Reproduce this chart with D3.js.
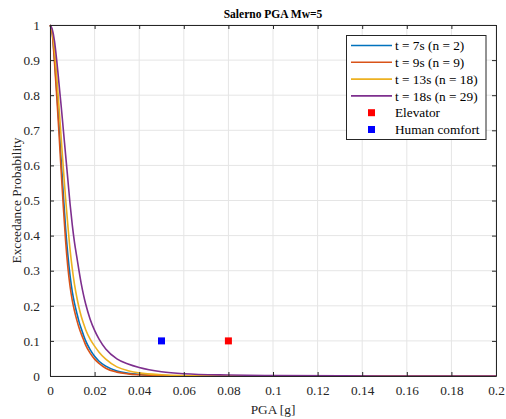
<!DOCTYPE html>
<html>
<head>
<meta charset="utf-8">
<script src="https://cdn.jsdelivr.net/npm/d3@7"></script>
<style>
  html, body { margin: 0; padding: 0; background: #fff; }
  svg { display: block; }
  svg text { font-family: "Times New Roman", "Liberation Serif", Times, serif; }
</style>
</head>
<body>
<svg id="chart" width="506" height="419"></svg>
<script>
// PGA grid [g] shared by all curves
const pga = [0, 0.001, 0.002, 0.003, 0.004, 0.005, 0.006, 0.007, 0.008, 0.009, 0.010,
             0.011, 0.012, 0.013, 0.014, 0.015, 0.016, 0.018, 0.020, 0.022, 0.025,
             0.030, 0.035, 0.040, 0.050, 0.060, 0.080, 0.100, 0.150, 0.200];

// Exceedance probability for each duration
const probT7  = [1, 0.978, 0.905, 0.815, 0.72, 0.615, 0.515, 0.42, 0.345, 0.285, 0.24,
                 0.207, 0.18, 0.155, 0.135, 0.117, 0.10, 0.075, 0.056, 0.042, 0.028,
                 0.0145, 0.008, 0.0045, 0.0016, 0.0006, 0.0001, 0, 0, 0];
const probT9  = [1, 0.975, 0.895, 0.80, 0.695, 0.585, 0.48, 0.385, 0.31, 0.255, 0.215,
                 0.185, 0.16, 0.138, 0.12, 0.104, 0.088, 0.065, 0.048, 0.036, 0.022,
                 0.011, 0.006, 0.0035, 0.0013, 0.0005, 0.0001, 0, 0, 0];
const probT13 = [1, 0.982, 0.93, 0.855, 0.77, 0.68, 0.59, 0.505, 0.43, 0.36, 0.305,
                 0.26, 0.225, 0.195, 0.17, 0.15, 0.132, 0.105, 0.085, 0.068, 0.048,
                 0.026, 0.015, 0.009, 0.0035, 0.0014, 0.0003, 0.0001, 0, 0];
const probT18 = [1, 0.988, 0.955, 0.90, 0.835, 0.77, 0.70, 0.63, 0.56, 0.49, 0.43,
                 0.38, 0.34, 0.30, 0.263, 0.232, 0.205, 0.162, 0.13, 0.105, 0.077,
                 0.049, 0.034, 0.024, 0.012, 0.0065, 0.0028, 0.0012, 0.0002, 0.0001];

const seriesNames  = ["t = 7s (n = 2)", "t = 9s (n = 9)", "t = 13s (n = 18)", "t = 18s (n = 29)"];
const seriesColors = ["#0072BD", "#D95319", "#EDB120", "#7E2F8E"];
const seriesValues = [probT7, probT9, probT13, probT18];

// Threshold points
const thresholdNames  = ["Elevator", "Human comfort"];
const thresholdPGA    = [0.08, 0.05];
const thresholdProb   = [0.1, 0.1];
const thresholdColors = ["#FF0000", "#0000FF"];

const xTicks = [0, 0.02, 0.04, 0.06, 0.08, 0.1, 0.12, 0.14, 0.16, 0.18, 0.2];
const yTicks = [0, 0.1, 0.2, 0.3, 0.4, 0.5, 0.6, 0.7, 0.8, 0.9, 1];

const svg = d3.select("#chart");
const margin = { left: 50, top: 25, right: 10, bottom: 43 };
const W = 506, H = 419;
const x = d3.scaleLinear().domain([0, 0.2]).range([margin.left, W - margin.right]);
const y = d3.scaleLinear().domain([0, 1]).range([H - margin.bottom, margin.top]);
const x0 = x.range()[0], x1 = x.range()[1], y0 = y.range()[0], y1 = y.range()[1];

const axisColor = "#262626";
const fontSize = 13.3;
const fmt = d => String(+d.toFixed(2));

// Grid
svg.append("g").selectAll("line").data(xTicks).join("line")
  .attr("x1", d => x(d)).attr("x2", d => x(d)).attr("y1", y1).attr("y2", y0)
  .attr("stroke", "#e5e5e5").attr("stroke-width", 1);
svg.append("g").selectAll("line").data(yTicks).join("line")
  .attr("x1", x0).attr("x2", x1).attr("y1", d => y(d)).attr("y2", d => y(d))
  .attr("stroke", "#e5e5e5").attr("stroke-width", 1);

// Curves
const line = d3.line().x(d => x(d[0])).y(d => y(d[1])).curve(d3.curveMonotoneX);
const curves = svg.append("g");
seriesValues.forEach((vals, i) => {
  curves.append("path")
    .datum(pga.map((p, k) => [p, vals[k]]))
    .attr("d", line)
    .attr("fill", "none")
    .attr("stroke", seriesColors[i])
    .attr("stroke-width", 1.6);
});

// Threshold markers
svg.append("g").selectAll("rect").data(thresholdPGA).join("rect")
  .attr("x", d => x(d) - 3.5).attr("y", (d, i) => y(thresholdProb[i]) - 3.5)
  .attr("width", 7).attr("height", 7)
  .attr("fill", (d, i) => thresholdColors[i]);

// Axes (bottom/left with labels, top/right mirrored ticks)
const xAxis = svg.append("g").attr("transform", `translate(0,${y0})`)
  .call(d3.axisBottom(x).tickValues(xTicks).tickFormat(fmt).tickSizeInner(-4).tickSizeOuter(0).tickPadding(10));
const xAxisTop = svg.append("g").attr("transform", `translate(0,${y1})`)
  .call(d3.axisTop(x).tickValues(xTicks).tickFormat("").tickSizeInner(-4).tickSizeOuter(0));
const yAxis = svg.append("g").attr("transform", `translate(${x0},0)`)
  .call(d3.axisLeft(y).tickValues(yTicks).tickFormat(fmt).tickSizeInner(-4).tickSizeOuter(0).tickPadding(10));
const yAxisRight = svg.append("g").attr("transform", `translate(${x1},0)`)
  .call(d3.axisRight(y).tickValues(yTicks).tickFormat("").tickSizeInner(-4).tickSizeOuter(0));

[xAxis, xAxisTop, yAxis, yAxisRight].forEach(g => {
  g.attr("font-family", null).attr("font-size", fontSize);
  g.select(".domain").attr("stroke", axisColor).attr("stroke-width", 1);
  g.selectAll(".tick line").attr("stroke", axisColor);
  g.selectAll("text").attr("fill", axisColor);
});

// Titles
svg.append("text").attr("x", (x0 + x1) / 2).attr("y", 18)
  .attr("text-anchor", "middle").attr("font-weight", "bold").attr("font-size", 11.5)
  .attr("fill", "#000").text("Salerno PGA Mw=5");
svg.append("text").attr("x", (x0 + x1) / 2).attr("y", 414)
  .attr("text-anchor", "middle").attr("font-size", fontSize).attr("fill", axisColor)
  .text("PGA [g]");
svg.append("text").attr("transform", `translate(21,${(y0 + y1) / 2}) rotate(-90)`)
  .attr("text-anchor", "middle").attr("font-size", fontSize).attr("fill", axisColor)
  .text("Exceedance Probability");

// Legend
const legend = svg.append("g");
legend.append("rect").attr("x", 346.5).attr("y", 35.5).attr("width", 139.5).attr("height", 104)
  .attr("fill", "#fff").attr("stroke", axisColor).attr("stroke-width", 1);
const rowY = i => 45.5 + i * 16.8;
seriesNames.forEach((name, i) => {
  legend.append("line").attr("x1", 351).attr("x2", 392).attr("y1", rowY(i)).attr("y2", rowY(i))
    .attr("stroke", seriesColors[i]).attr("stroke-width", 1.6);
  legend.append("text").attr("x", 395).attr("y", rowY(i)).attr("dy", "0.35em")
    .attr("font-size", fontSize).attr("fill", "#000").text(name);
});
thresholdNames.forEach((name, j) => {
  const i = seriesNames.length + j;
  legend.append("rect").attr("x", 371.5 - 3.5).attr("y", rowY(i) - 3.5).attr("width", 7).attr("height", 7)
    .attr("fill", thresholdColors[j]);
  legend.append("text").attr("x", 395).attr("y", rowY(i)).attr("dy", "0.35em")
    .attr("font-size", fontSize).attr("fill", "#000").text(name);
});
</script>
</body>
</html>
